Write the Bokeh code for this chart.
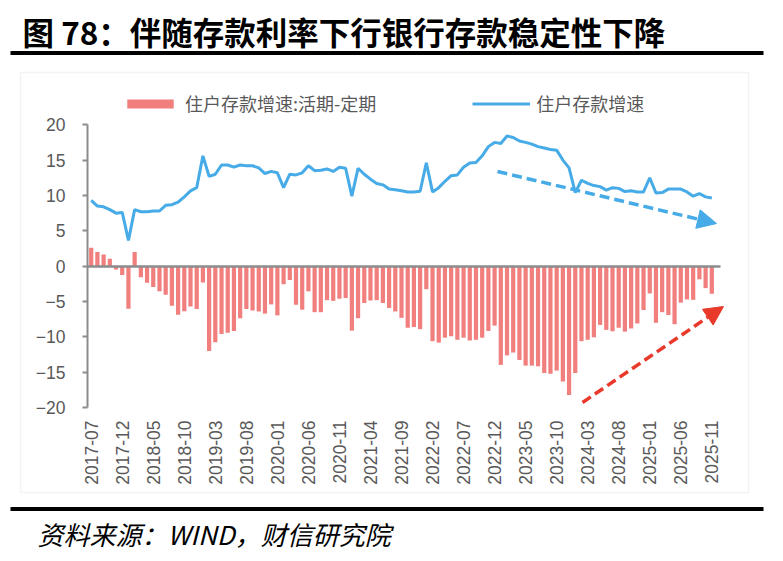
import math
from bokeh.plotting import figure
from bokeh.models import (Range1d, LinearAxis, FixedTicker, Legend, LegendItem,
                          Arrow, NormalHead, BoxAnnotation, Label)
from bokeh.embed import file_html
from bokeh.resources import INLINE

# ---------------- data ----------------
start_year, start_month, n_months = 2017, 7, 101
months = []
for k in range(n_months):
    yy = start_year + (start_month - 1 + k) // 12
    mm = (start_month - 1 + k) % 12 + 1
    months.append(f"{yy}-{mm:02d}")

tick_labels = ["2017-07", "2017-12", "2018-05", "2018-10", "2019-03", "2019-08",
               "2020-01", "2020-06", "2020-11", "2021-04", "2021-09", "2022-02",
               "2022-07", "2022-12", "2023-05", "2023-10", "2024-03", "2024-08",
               "2025-01", "2025-06", "2025-11"]

# 住户存款增速:活期-定期
spread = [2.6, 2.0, 1.65, 1.05, -0.45, -1.25, -6.0, 2.0, -1.55, -2.35,
          -2.95, -3.55, -4.05, -5.6, -6.85, -6.35, -5.7, -6.05, -2.3, -12.0,
          -10.75, -9.6, -9.4, -9.15, -7.35, -6.05, -6.25, -6.4, -6.7, -5.4,
          -6.95, -2.55, -1.95, -5.45, -6.15, -3.55, -6.5, -6.5, -4.8, -4.9,
          -4.6, -4.5, -9.1, -7.35, -5.2, -4.85, -4.8, -5.2, -5.9, -6.4,
          -7.3, -8.7, -8.6, -8.9, -3.25, -10.6, -10.8, -10.1, -9.9, -10.4,
          -10.1, -10.5, -10.4, -10.1, -9.15, -8.4, -13.95, -12.6, -12.2, -13.25,
          -14.05, -14.05, -14.15, -15.1, -15.2, -14.75, -16.3, -18.2, -15.1, -10.6,
          -10.4, -10.05, -8.3, -9.0, -9.2, -8.7, -9.25, -8.8, -8.1, -6.2,
          -3.85, -8.0, -6.5, -6.9, -8.2, -5.15, -4.7, -4.75, -1.85, -3.1, -3.9]

# 住户存款增速
growth = [9.3, 8.5, 8.4, 8.0, 7.5, 7.6, 3.65, 8.0, 7.7, 7.7,
          7.8, 7.8, 8.6, 8.7, 9.05, 9.8, 10.65, 11.1, 15.6, 12.7,
          13.0, 14.3, 14.3, 14.0, 14.3, 14.2, 14.2, 13.9, 13.1, 13.4,
          13.2, 11.1, 13.0, 12.9, 13.2, 14.2, 13.5, 13.55, 13.75, 13.4,
          14.0, 13.85, 9.9, 13.85, 13.0, 12.3, 11.7, 11.5, 10.9, 10.8,
          10.65, 10.5, 10.5, 10.6, 14.6, 10.5, 11.1, 12.0, 12.8, 12.9,
          14.0, 14.6, 14.65, 15.6, 16.9, 17.5, 17.35, 18.4, 18.2, 17.7,
          17.5, 17.25, 16.9, 16.7, 16.5, 16.4, 15.0, 13.9, 10.4, 12.15,
          11.7, 11.4, 11.25, 10.75, 11.1, 11.0, 10.55, 10.65, 10.5, 10.5,
          12.5, 10.35, 10.4, 10.9, 10.9, 10.9, 10.5, 9.9, 10.25, 9.8, 9.65]

y_ticks = [-20, -15, -10, -5, 0, 5, 10, 15, 20]

# ---------------- layout helpers (pixel -> data) ----------------
X0, DX = 90.7, 6.206
Y0, DY = 265.7, 7.075
def px_x(px):
    return (px - X0) / DX
def px_y(py):
    return (Y0 - py) / DY

BAR = "#F07F7D"
BLUE = "#46ABE6"
RED = "#E8392B"
GRAY = "#8C8C8C"
TXT = "#595959"

idx = list(range(len(months)))
tick_idx = [months.index(t) for t in tick_labels]

p = figure(width=783, height=561, output_backend="svg", toolbar_location=None,
           x_range=Range1d(px_x(0), px_x(783)), y_range=Range1d(px_y(561), px_y(0)),
           x_axis_location=None, y_axis_location=None,
           min_border=0, min_border_left=0, min_border_right=0,
           min_border_top=0, min_border_bottom=0)
p.outline_line_color = None
p.background_fill_color = "white"
p.border_fill_color = "white"
for g in p.grid:
    g.visible = False

# chart box and title/footer rules
p.add_layout(BoxAnnotation(left=px_x(20), right=px_x(748), top=px_y(72), bottom=px_y(492),
                           fill_alpha=0, line_color="#D6D6D6", line_width=1.5, level="underlay"))
p.add_layout(BoxAnnotation(left=px_x(10), right=px_x(763), top=px_y(50.5), bottom=px_y(54.5),
                           fill_color="black", fill_alpha=1, line_color=None))
p.add_layout(BoxAnnotation(left=px_x(10), right=px_x(763), top=px_y(506.5), bottom=px_y(510.5),
                           fill_color="black", fill_alpha=1, line_color=None))

bars_r = p.vbar(x=idx, top=spread, bottom=0, width=0.68, fill_color=BAR, line_color=None)
line_r = p.line(x=idx, y=growth, line_color=BLUE, line_width=3)

TICK_FONT = "Liberation Sans"
TICK_SIZE = "17.5px"

# y axis
yax = LinearAxis(fixed_location=px_x(87), bounds=(-20, 20), ticker=FixedTicker(ticks=y_ticks))
yax.axis_line_color = GRAY
yax.axis_line_width = 2
yax.major_tick_line_color = GRAY
yax.major_tick_line_width = 2
yax.major_tick_out = 5
yax.major_tick_in = 0
yax.minor_tick_line_color = None
yax.major_label_text_font = TICK_FONT
yax.major_label_text_font_size = TICK_SIZE
yax.major_label_text_color = TXT
yax.major_label_standoff = 17
p.add_layout(yax, "left")

# horizontal axis line at zero
zax = LinearAxis(fixed_location=0, bounds=(px_x(87), px_x(720)), ticker=FixedTicker(ticks=[]))
zax.axis_line_color = GRAY
zax.axis_line_width = 2.5
zax.major_tick_line_color = None
zax.minor_tick_line_color = None
zax.major_label_text_font_size = "0px"
p.add_layout(zax, "below")

# category labels at the bottom
lax = LinearAxis(fixed_location=px_y(414), ticker=FixedTicker(ticks=tick_idx),
                 major_label_overrides={i: t for i, t in zip(tick_idx, tick_labels)})
lax.axis_line_color = None
lax.major_tick_line_color = None
lax.minor_tick_line_color = None
lax.major_tick_out = 0
lax.major_tick_in = 0
lax.major_label_orientation = math.pi / 2
lax.major_label_text_font = TICK_FONT
lax.major_label_text_font_size = TICK_SIZE
lax.major_label_text_color = TXT
lax.major_label_standoff = 6
p.add_layout(lax, "below")

legend = Legend(items=[LegendItem(label="住户存款增速:活期-定期", renderers=[bars_r]),
                       LegendItem(label="住户存款增速", renderers=[line_r])],
                orientation="horizontal", location=(121, 445),
                glyph_width=58, glyph_height=11, label_standoff=6, spacing=96,
                padding=0, margin=0, background_fill_alpha=0, border_line_alpha=0,
                label_text_font="Noto Sans CJK SC", label_text_font_size="18px",
                label_text_color=TXT)
p.add_layout(legend)

# trend arrows
p.add_layout(Arrow(end=NormalHead(size=19, fill_color=BLUE, line_color=BLUE),
                   x_start=px_x(497), y_start=px_y(171), x_end=px_x(716), y_end=px_y(223),
                   line_color=BLUE, line_width=3.5, line_dash="10 5"))
p.add_layout(Arrow(end=NormalHead(size=19, fill_color=RED, line_color=RED),
                   x_start=px_x(582), y_start=px_y(402), x_end=px_x(723), y_end=px_y(306),
                   line_color=RED, line_width=3.5, line_dash="10 5"))

p.add_layout(Label(x=px_x(22), y=px_y(30), text="图 78：伴随存款利率下行银行存款稳定性下降",
                   text_font="Noto Sans CJK SC", text_font_size="31.5px", text_font_style="bold",
                   text_color="black", text_baseline="middle"))
p.add_layout(Label(x=px_x(37), y=px_y(533), text="资料来源：WIND，财信研究院",
                   text_font="Noto Sans CJK SC", text_font_size="26px", text_font_style="italic",
                   text_color="black", text_baseline="middle"))

open("out.html", "w").write(file_html(p, INLINE))
